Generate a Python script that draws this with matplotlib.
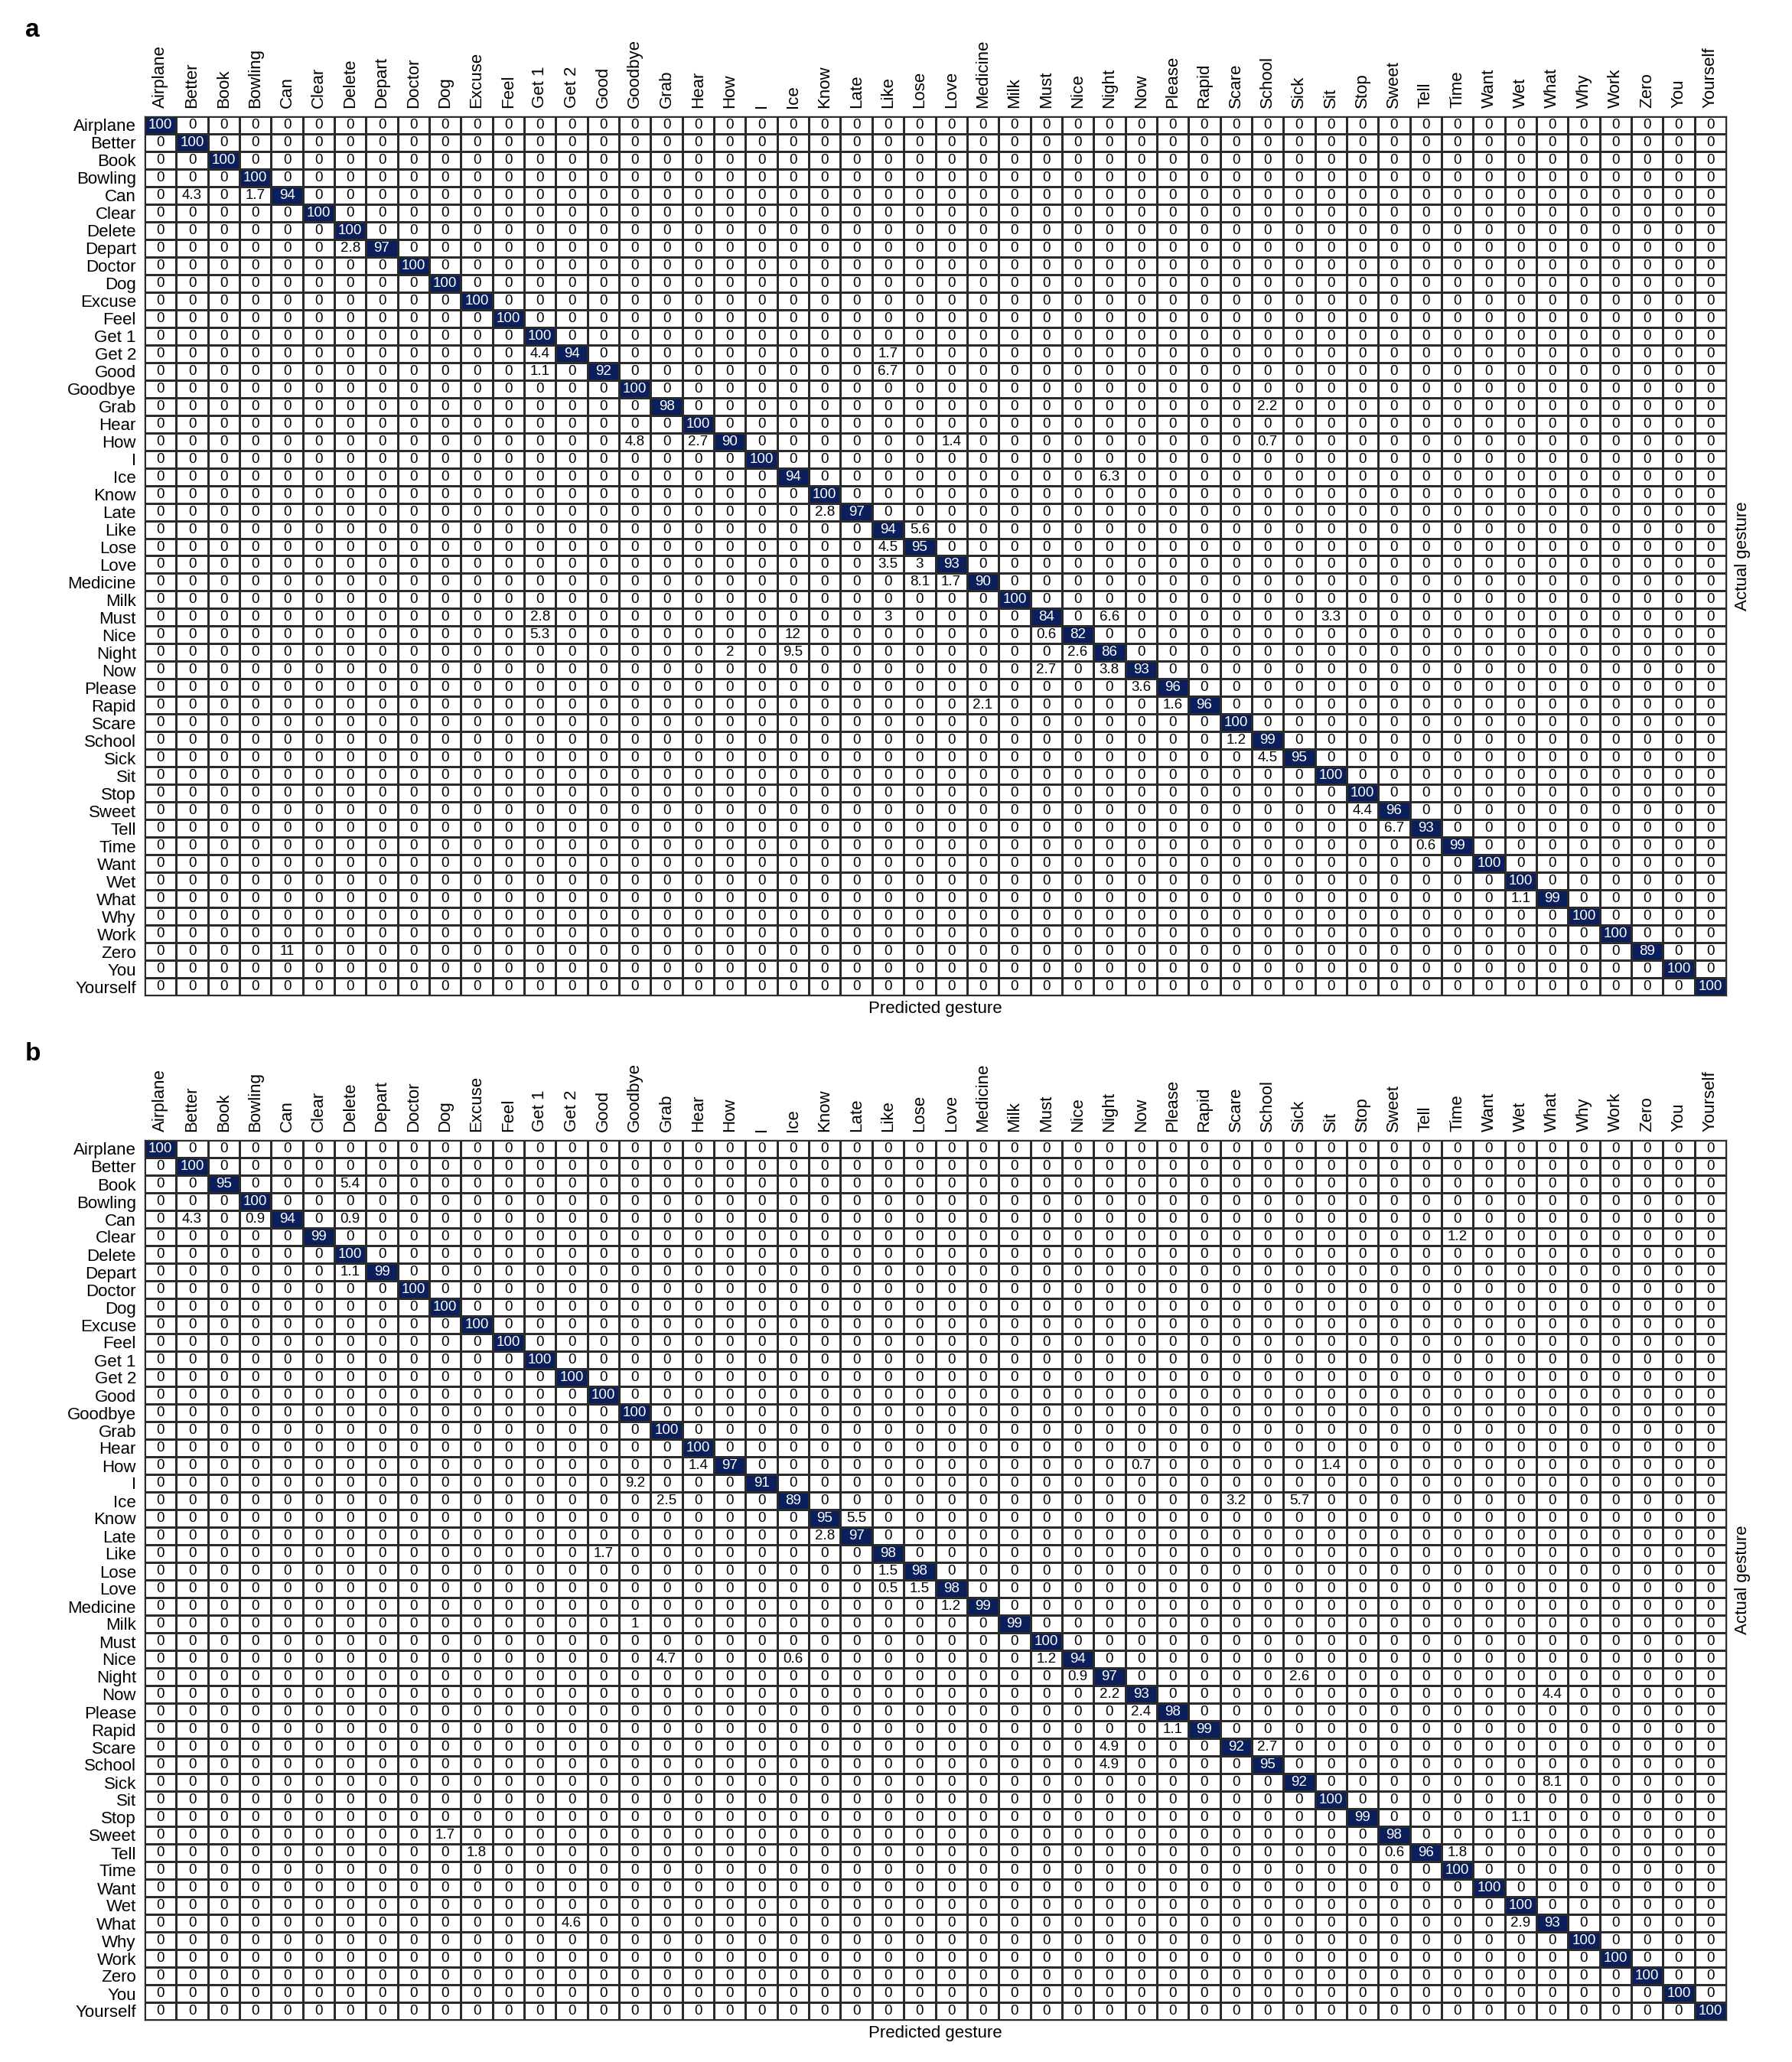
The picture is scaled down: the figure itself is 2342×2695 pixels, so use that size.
import numpy as np
import matplotlib
matplotlib.use("Agg")
import matplotlib.pyplot as plt
from matplotlib.colors import ListedColormap, BoundaryNorm

plt.rcParams['font.family'] = ['Liberation Sans', 'DejaVu Sans']

gestures = ["Airplane", "Better", "Book", "Bowling", "Can", "Clear", "Delete", "Depart",
            "Doctor", "Dog", "Excuse", "Feel", "Get 1", "Get 2", "Good", "Goodbye", "Grab",
            "Hear", "How", "I", "Ice", "Know", "Late", "Like", "Lose", "Love", "Medicine",
            "Milk", "Must", "Nice", "Night", "Now", "Please", "Rapid", "Scare", "School",
            "Sick", "Sit", "Stop", "Sweet", "Tell", "Time", "Want", "Wet", "What", "Why",
            "Work", "Zero", "You", "Yourself"]

# diagonal (correct) percentages, same order as gestures
diag_a = [100, 100, 100, 100, 94, 100, 100, 97, 100, 100, 100, 100, 100, 94, 92, 100, 98,
          100, 90, 100, 94, 100, 97, 94, 95, 93, 90, 100, 84, 82, 86, 93, 96, 96, 100, 99,
          95, 100, 100, 96, 93, 99, 100, 100, 99, 100, 100, 89, 100, 100]
diag_b = [100, 100, 95, 100, 94, 99, 100, 99, 100, 100, 100, 100, 100, 100, 100, 100, 100,
          100, 97, 91, 89, 95, 97, 98, 98, 98, 99, 99, 100, 94, 97, 93, 98, 99, 92, 95,
          92, 100, 99, 98, 96, 100, 100, 100, 93, 100, 100, 100, 100, 100]

# off-diagonal confusions: (actual, predicted, percent)
off_a = [("Can", "Better", 4.3), ("Can", "Bowling", 1.7),
         ("Depart", "Delete", 2.8),
         ("Get 2", "Get 1", 4.4), ("Get 2", "Like", 1.7),
         ("Good", "Get 1", 1.1), ("Good", "Like", 6.7),
         ("Grab", "School", 2.2),
         ("How", "Goodbye", 4.8), ("How", "Hear", 2.7), ("How", "Love", 1.4), ("How", "School", 0.7),
         ("Ice", "Night", 6.3),
         ("Late", "Know", 2.8),
         ("Like", "Lose", 5.6),
         ("Lose", "Like", 4.5),
         ("Love", "Like", 3.5), ("Love", "Lose", 3),
         ("Medicine", "Lose", 8.1), ("Medicine", "Love", 1.7),
         ("Must", "Get 1", 2.8), ("Must", "Like", 3), ("Must", "Night", 6.6), ("Must", "Sit", 3.3),
         ("Nice", "Get 1", 5.3), ("Nice", "Ice", 12), ("Nice", "Must", 0.6),
         ("Night", "How", 2), ("Night", "Ice", 9.5), ("Night", "Nice", 2.6),
         ("Now", "Must", 2.7), ("Now", "Night", 3.8),
         ("Please", "Now", 3.6),
         ("Rapid", "Medicine", 2.1), ("Rapid", "Please", 1.6),
         ("School", "Scare", 1.2),
         ("Sick", "School", 4.5),
         ("Sweet", "Stop", 4.4),
         ("Tell", "Sweet", 6.7),
         ("Time", "Tell", 0.6),
         ("What", "Wet", 1.1),
         ("Zero", "Can", 11)]
off_b = [("Book", "Delete", 5.4),
         ("Can", "Better", 4.3), ("Can", "Bowling", 0.9), ("Can", "Delete", 0.9),
         ("Clear", "Time", 1.2),
         ("Depart", "Delete", 1.1),
         ("How", "Hear", 1.4), ("How", "Now", 0.7), ("How", "Sit", 1.4),
         ("I", "Goodbye", 9.2),
         ("Ice", "Grab", 2.5), ("Ice", "Scare", 3.2), ("Ice", "Sick", 5.7),
         ("Know", "Late", 5.5),
         ("Late", "Know", 2.8),
         ("Like", "Good", 1.7),
         ("Lose", "Like", 1.5),
         ("Love", "Like", 0.5), ("Love", "Lose", 1.5),
         ("Medicine", "Love", 1.2),
         ("Milk", "Goodbye", 1),
         ("Nice", "Grab", 4.7), ("Nice", "Ice", 0.6), ("Nice", "Must", 1.2),
         ("Night", "Nice", 0.9), ("Night", "Sick", 2.6),
         ("Now", "Night", 2.2), ("Now", "What", 4.4),
         ("Please", "Now", 2.4),
         ("Rapid", "Please", 1.1),
         ("Scare", "Night", 4.9), ("Scare", "School", 2.7),
         ("School", "Night", 4.9),
         ("Sick", "What", 8.1),
         ("Stop", "Wet", 1.1),
         ("Sweet", "Dog", 1.7),
         ("Tell", "Excuse", 1.8), ("Tell", "Sweet", 0.6), ("Tell", "Time", 1.8),
         ("What", "Get 2", 4.6), ("What", "Wet", 2.9)]

NAVY = "#0a1f5c"


def build_matrix(diag, off):
    n = len(gestures)
    m = np.zeros((n, n))
    m[np.arange(n), np.arange(n)] = diag
    for r, c, v in off:
        m[gestures.index(r), gestures.index(c)] = v
    return m


def draw_panel(ax, cm):
    n = len(gestures)
    cmap = ListedColormap(["white", NAVY])
    norm = BoundaryNorm([0, 50, 101], cmap.N)
    ax.pcolormesh(np.arange(n + 1) - 0.5, np.arange(n + 1) - 0.5, cm, cmap=cmap, norm=norm,
                  edgecolors="#2b2b2b", linewidth=0.8)
    ax.set_xlim(-0.5, n - 0.5)
    ax.set_ylim(n - 0.5, -0.5)
    for i in range(n):
        for j in range(n):
            v = cm[i, j]
            ax.text(j, i, f"{v:g}", ha="center", va="center", fontsize=13.5,
                    color="white" if v >= 50 else "black")
    ax.xaxis.tick_top()
    ax.set_xticks(range(n))
    ax.set_xticklabels(gestures, rotation=90, fontsize=16)
    ax.set_yticks(range(n))
    ax.set_yticklabels(gestures, fontsize=16)
    ax.tick_params(length=0, pad=8)
    ax.set_xlabel("Predicted gesture", fontsize=16, labelpad=5)
    ax.yaxis.set_label_position("right")
    ax.set_ylabel("Actual gesture", fontsize=16, labelpad=8)
    for s in ax.spines.values():
        s.set_linewidth(1.0)
        s.set_color("#2b2b2b")


fig = plt.figure(figsize=(23.42, 26.95), dpi=100)
W, H = 2342, 2695
left, right = 189, 2256
ax_a = fig.add_axes([left / W, 1 - 1301 / H, (right - left) / W, (1301 - 152) / H])
ax_b = fig.add_axes([left / W, 1 - 2640 / H, (right - left) / W, (2640 - 1490) / H])

draw_panel(ax_a, build_matrix(diag_a, off_a))
draw_panel(ax_b, build_matrix(diag_b, off_b))

fig.text(33 / W, 1 - 39 / H, "a", fontsize=24, fontweight="bold", va="center", ha="left")
fig.text(33 / W, 1 - 1377 / H, "b", fontsize=24, fontweight="bold", va="center", ha="left")

fig.savefig("out.png", dpi=100)
